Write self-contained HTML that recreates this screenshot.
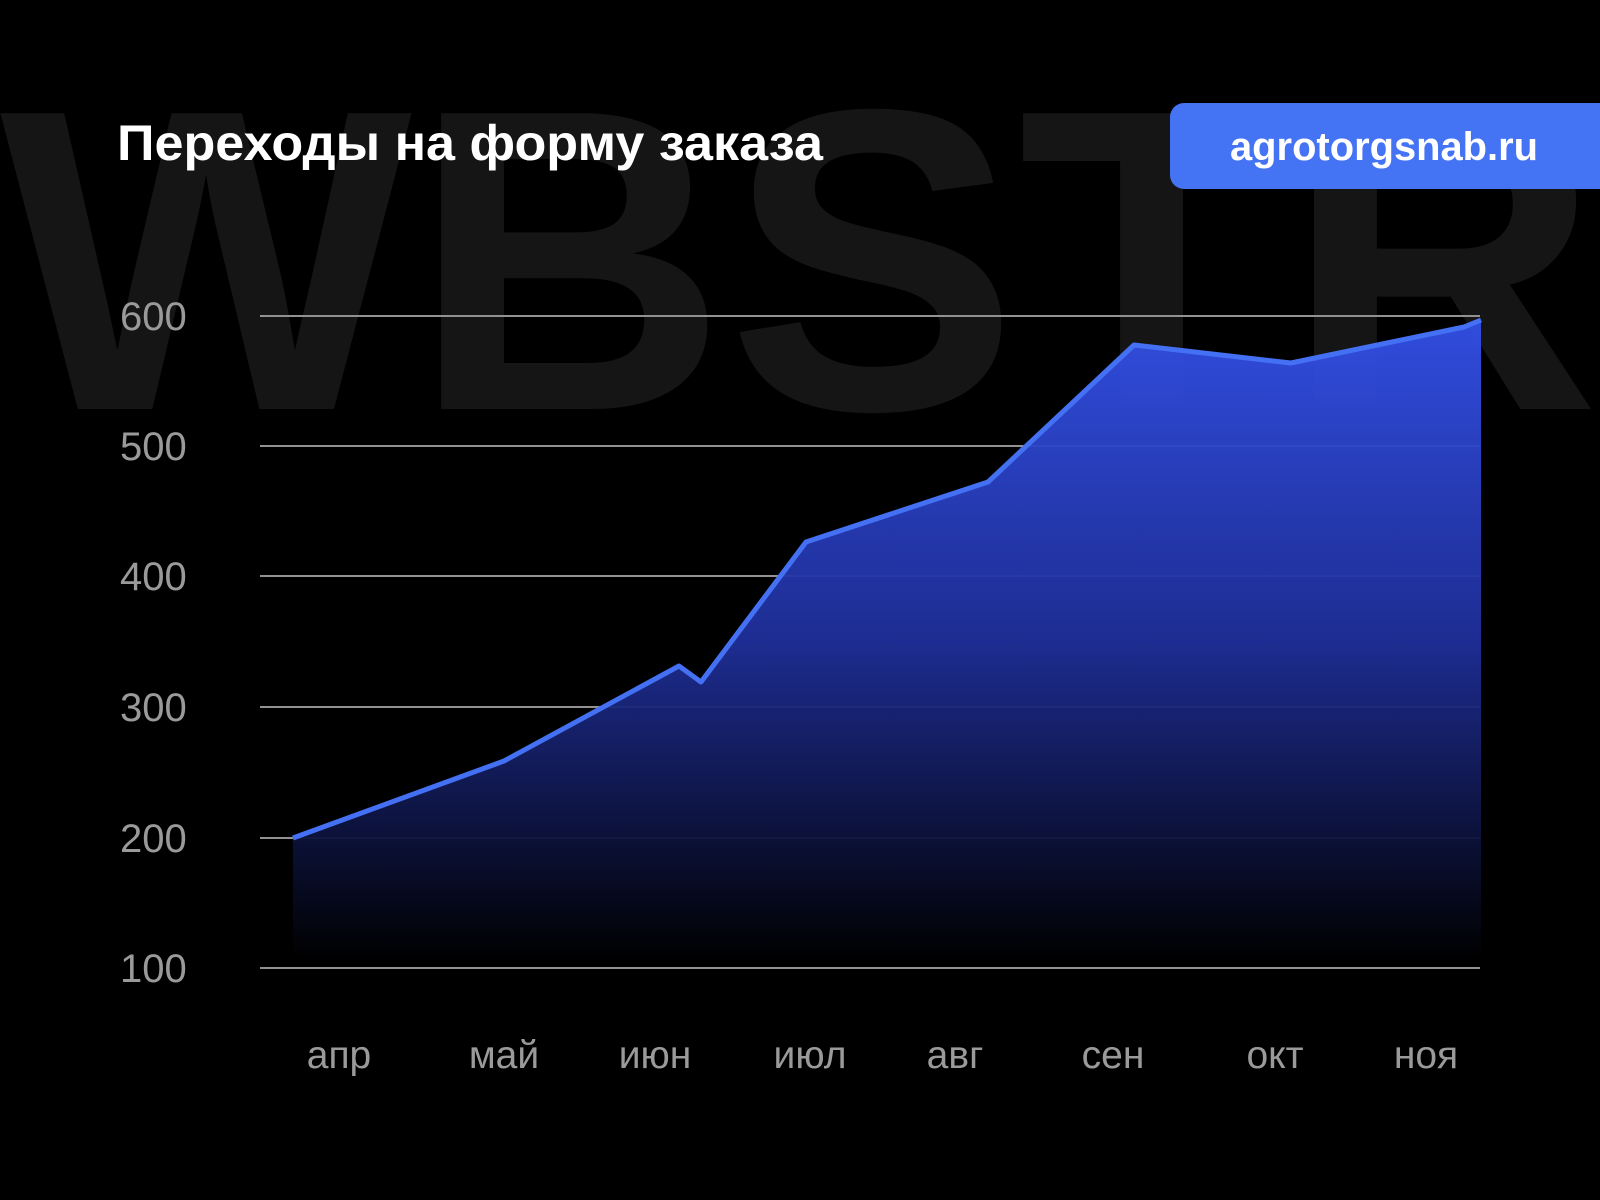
<!DOCTYPE html>
<html><head><meta charset="utf-8"><style>
html,body{margin:0;padding:0;background:#000;}
svg{display:block}
</style></head><body>
<svg width="1600" height="1200" viewBox="0 0 1600 1200" xmlns="http://www.w3.org/2000/svg">
<defs>
<linearGradient id="g" x1="0" y1="0" x2="0" y2="1" gradientUnits="objectBoundingBox">
<stop offset="0" stop-color="#3350e8"/>
<stop offset="0.5" stop-color="#1f2f9a"/>
<stop offset="1" stop-color="#000000"/>
</linearGradient>
</defs>
<rect width="1600" height="1200" fill="#000"/>
<text x="0" y="409" font-family="Liberation Sans, sans-serif" font-weight="bold" font-size="430" fill="#151515" textLength="1600" lengthAdjust="spacingAndGlyphs">WBSTR</text>
<g stroke="#929292" stroke-width="2">
<line x1="260" y1="316" x2="1480" y2="316"/>
<line x1="260" y1="446" x2="1480" y2="446"/>
<line x1="260" y1="576" x2="1480" y2="576"/>
<line x1="260" y1="707" x2="1480" y2="707"/>
<line x1="260" y1="838" x2="1480" y2="838"/>
<line x1="260" y1="968" x2="1480" y2="968"/>
</g>
<polygon points="293,838 504,761 679,666 701,682 806,542 988,482 1134,345 1291,363 1464,327 1481,320 1481,960 293,960" fill="url(#g)" opacity="0.95"/>
<polyline points="293,838 504,761 679,666 701,682 806,542 988,482 1134,345 1291,363 1464,327 1481,320" fill="none" stroke="#4470f4" stroke-width="5" stroke-linejoin="round"/>
<g font-family="Liberation Sans, sans-serif" font-size="40" fill="#9a9a9a">
<text x="120" y="330">600</text>
<text x="120" y="460">500</text>
<text x="120" y="590">400</text>
<text x="120" y="721">300</text>
<text x="120" y="852">200</text>
<text x="120" y="982">100</text>
</g>
<g font-family="Liberation Sans, sans-serif" font-size="39" fill="#9a9a9a" text-anchor="middle">
<text x="339" y="1068">апр</text>
<text x="504" y="1068">май</text>
<text x="655" y="1068">июн</text>
<text x="810" y="1068">июл</text>
<text x="955" y="1068">авг</text>
<text x="1113" y="1068">сен</text>
<text x="1275" y="1068">окт</text>
<text x="1426" y="1068">ноя</text>
</g>
<text x="117" y="160" font-family="Liberation Sans, sans-serif" font-weight="bold" font-size="50" fill="#fff" textLength="706" lengthAdjust="spacingAndGlyphs">Переходы на форму заказа</text>
<rect x="1170" y="103" width="460" height="86" rx="14" fill="#4474f4"/>
<text x="1230" y="160" font-family="Liberation Sans, sans-serif" font-weight="bold" font-size="40" fill="#fff" textLength="308" lengthAdjust="spacingAndGlyphs">agrotorgsnab.ru</text>
</svg>
</body></html>
